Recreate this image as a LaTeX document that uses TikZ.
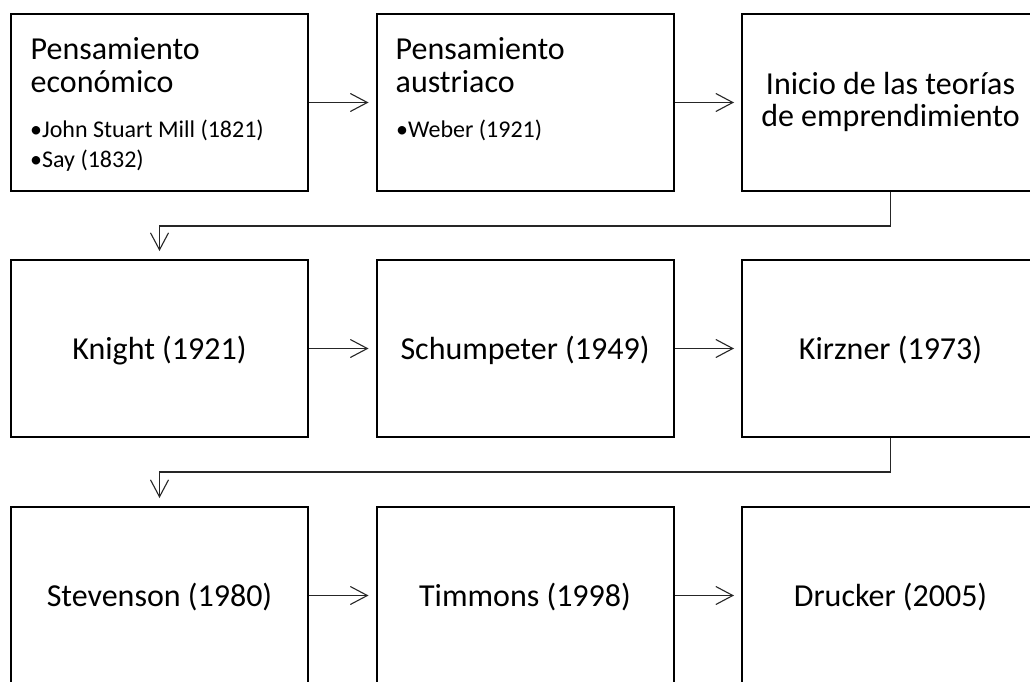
\documentclass[tikz,border=0pt]{standalone}
\usepackage{fontspec}
\setmainfont{Carlito}
\usetikzlibrary{arrows.meta}
\tikzset{
  stage/.style={draw=black, line width=2pt, minimum width=297pt, minimum height=177pt, inner sep=0pt, fill=white},
  conn/.style={draw=black!85, line width=1.1pt, -{Straight Barb[length=17pt,width=18pt,line width=1.1pt]}},
  big/.style={font=\fontsize{32}{38}\selectfont, inner sep=0pt},
  small/.style={font=\fontsize{24}{29}\selectfont, inner sep=0pt},
}
\begin{document}
\begin{tikzpicture}[x=1pt,y=-1pt]
\useasboundingbox (0,0) rectangle (1030,682);
\clip (0,0) rectangle (1030,682);
\fill[white] (0,0) rectangle (1030,682);
% boxes
\node[stage] (b1) at (159.5,102.5) {};
\node[stage] (b2) at (525,102.5) {};
\node[stage] (b3) at (890.5,102.5) {};
\node[stage] (b4) at (159.5,348.5) {};
\node[stage] (b5) at (525,348.5) {};
\node[stage] (b6) at (890.5,348.5) {};
\node[stage] (b7) at (159.5,595.5) {};
\node[stage] (b8) at (525,595.5) {};
\node[stage] (b9) at (890.5,595.5) {};
% texts row 1
\node[big, anchor=base west] (t1a) at (30.5,59.5) {Pensamiento};
\node[big, anchor=base west] (t1b) at (30.5,92.5) {económico};
\node[small, anchor=base west] (t1c) at (30,138) {•John Stuart Mill (1821)};
\node[small, anchor=base west] (t1d) at (30,167) {•Say (1832)};
\node[big, anchor=base west] (t2a) at (395.5,59.5) {Pensamiento};
\node[big, anchor=base west] (t2b) at (395.5,92.5) {austriaco};
\node[small, anchor=base west] (t2c) at (396,138) {•Weber (1921)};
\node[big, anchor=base] (t3a) at (890.5,95) {Inicio de las teorías};
\node[big, anchor=base] (t3b) at (890.5,127) {de emprendimiento};
% texts rows 2-3
\node[big, anchor=base] (t4) at (159.5,359) {Knight (1921)};
\node[big, anchor=base] (t5) at (525,359) {Schumpeter (1949)};
\node[big, anchor=base] (t6) at (890.5,359) {Kirzner (1973)};
\node[big, anchor=base] (t7) at (159.5,606) {Stevenson (1980)};
\node[big, anchor=base] (t8) at (525,606) {Timmons (1998)};
\node[big, anchor=base] (t9) at (890.5,606) {Drucker (2005)};
% connectors
\draw[conn, shorten >=7pt] (b1.east) -- (b2.west);
\draw[conn, shorten >=7pt] (b2.east) -- (b3.west);
\draw[conn, shorten >=7pt] (b4.east) -- (b5.west);
\draw[conn, shorten >=7pt] (b5.east) -- (b6.west);
\draw[conn, shorten >=7pt] (b7.east) -- (b8.west);
\draw[conn, shorten >=7pt] (b8.east) -- (b9.west);
\coordinate (k1) at (890.5,226);
\coordinate (k2) at (890.5,472);
\draw[conn, shorten >=8pt] (b3.south) -- (k1) -| (b4.north);
\draw[conn, shorten >=8pt] (b6.south) -- (k2) -| (b7.north);
\end{tikzpicture}
\end{document}
